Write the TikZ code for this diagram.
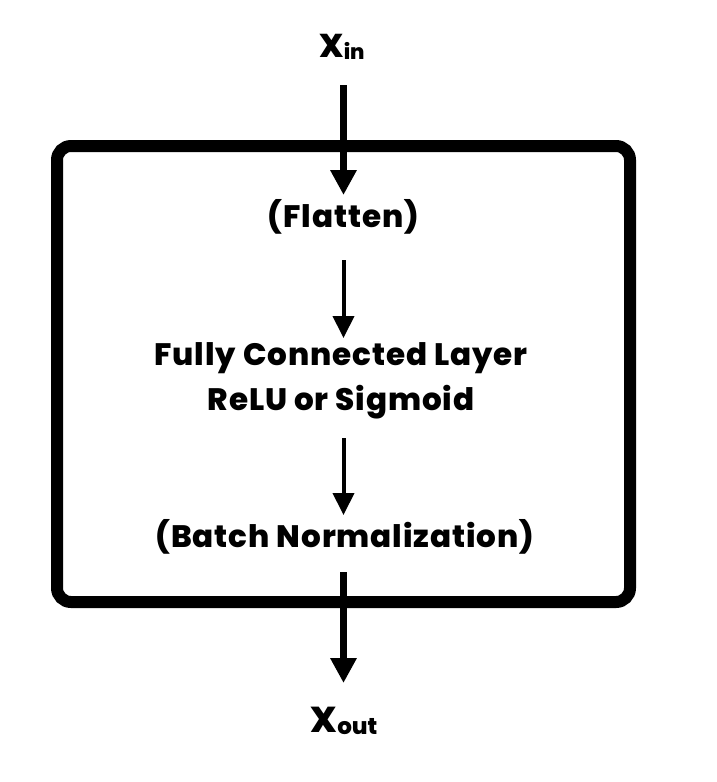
\documentclass[tikz,border=0pt]{standalone}
\usepackage{fontspec}
\setmainfont{Poppins}[BoldFont=* ExtraBold]
\newfontfamily\lblfont{Poppins}[UprightFont=* ExtraBold, LetterSpace=3]
\usetikzlibrary{arrows.meta}
\begin{document}
\begin{tikzpicture}[x=1pt,y=-1pt,
  lbl/.style={font=\lblfont\fontsize{31}{45}\selectfont, inner sep=0pt, anchor=base, align=center},
  sym/.style={inner sep=0pt, anchor=base},
  bigarrow/.style={line width=7pt, -{Triangle[length=25pt,width=25pt]}},
  smallarrow/.style={line width=4pt, -{Triangle[length=22pt,width=21pt]}},
  frame/.style={draw, line width=12pt, rounded corners=14pt, inner sep=0pt}]
\useasboundingbox (0,0) rectangle (716,782);
\node[frame, minimum width=573pt, minimum height=456pt] (box) at (343.5,374) {};
\node[sym, font=\bfseries\fontsize{33}{33}\selectfont] (xin) at (342,57) {X\raisebox{-2pt}{\fontsize{21}{21}\selectfont in}};
\node[lbl] (flatten) at (343.5,227) {(Flatten)};
\node[lbl] (fc) at (341,410) {Fully Connected Layer\\ReLU or Sigmoid};
\node[lbl] (bn) at (345,547) {(Batch Normalization)};
\node[sym, font=\bfseries\fontsize{36}{36}\selectfont] (xout) at (344,732) {X\raisebox{-2pt}{\fontsize{23}{23}\selectfont out}};
\draw[bigarrow] ([yshift=-28pt]xin.base -| box.center) -- ([yshift=32pt]flatten.base -| box.center);
\draw[smallarrow] ([yshift=-33pt]flatten.base -| box.center) -- ([yshift=72pt]fc.base -| box.center);
\draw[smallarrow] ([yshift=-28pt]fc.base -| box.center) -- ([yshift=32pt]bn.base -| box.center);
\draw[bigarrow] ([yshift=-25pt]bn.base -| box.center) -- ([yshift=49pt]xout.base -| box.center);
\end{tikzpicture}
\end{document}
